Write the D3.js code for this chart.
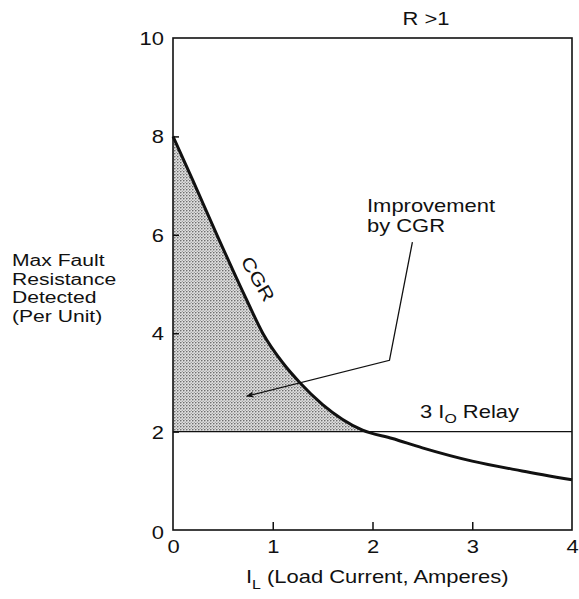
<!DOCTYPE html>
<html><head><meta charset="utf-8">
<script src="https://cdn.jsdelivr.net/npm/d3@7"></script>
<style>body{margin:0;background:#fff}svg{display:block}text{font-family:"Liberation Sans",Arial,Helvetica,sans-serif;fill:#111}</style>
</head><body><svg id="c" width="579" height="599"></svg>
<script>
// ---- data ----
const cgrI = [0, 0.2, 0.44, 0.74, 0.9, 1.1, 1.27, 1.5, 1.9, 2.2, 2.5, 3, 3.5, 4];
const cgrR = [8, 7.1, 6.0, 4.67, 4.0, 3.4, 3.0, 2.55, 2.03, 1.86, 1.67, 1.4, 1.2, 1.02];
const relayI = [0, 4];
const relayR = [2, 2];
const xTicks = [0, 1, 2, 3, 4];
const yTicks = [0, 2, 4, 6, 8, 10];
const arrowI = [2.4, 2.17, 0.74];
const arrowR = [5.85, 3.45, 2.72];

const svg = d3.select("#c");
const x = d3.scaleLinear().domain([0, 4]).range([173, 572]);
const y = d3.scaleLinear().domain([0, 10]).range([530, 38]);
const SX = 1.22;
const FS = 18;

const defs = svg.append("defs");
const pat = defs.append("pattern").attr("id", "dots").attr("patternUnits", "userSpaceOnUse")
  .attr("width", 3).attr("height", 3);
pat.append("rect").attr("width", 3).attr("height", 3).attr("fill", "#e0e0e0");
pat.append("circle").attr("cx", 0.8).attr("cy", 0.8).attr("r", 0.8).attr("fill", "#555");
pat.append("circle").attr("cx", 2.3).attr("cy", 2.3).attr("r", 0.6).attr("fill", "#888");
defs.append("marker").attr("id", "ah").attr("viewBox", "0 0 10 10").attr("refX", 9).attr("refY", 5)
  .attr("markerWidth", 12).attr("markerHeight", 8).attr("markerUnits", "userSpaceOnUse").attr("orient", "auto")
  .append("path").attr("d", "M0,1 L10,5 L0,9 L3,5 Z").attr("fill", "#111");

const cgr = cgrI.map((v, i) => ({ i: v, r: cgrR[i] }));
const shade = cgr.filter(d => d.r >= relayR[0]);

// shaded improvement area
svg.append("path").datum(shade)
  .attr("d", d3.area().x(d => x(d.i)).y0(y(relayR[0])).y1(d => y(d.r)).curve(d3.curveMonotoneX))
  .attr("fill", "url(#dots)");

// axes
const yAx = svg.append("g").attr("transform", `translate(${x(0)},0)`)
  .call(d3.axisLeft(y).tickValues(yTicks).tickSize(-6).tickFormat(d3.format("d")));
const xAx = svg.append("g").attr("transform", `translate(0,${y(0)})`)
  .call(d3.axisBottom(x).tickValues(xTicks).tickSize(-8).tickFormat(d3.format("d")));
[yAx, xAx].forEach(g => {
  g.select(".domain").remove();
  g.selectAll("line").attr("stroke", "#111").attr("stroke-width", 1.5);
  g.selectAll("text").attr("font-size", FS).attr("fill", "#111")
    .style("font-family", '"Liberation Sans",Arial,sans-serif');
});
yAx.selectAll(".tick").filter(d => d === 0 || d === 10).select("line").remove();
xAx.selectAll(".tick").filter(d => d === 0 || d === 4).select("line").remove();
yAx.selectAll(".tick text").each(function (d) {
  d3.select(this).attr("text-anchor", "end").attr("x", 0).attr("dy", "0.36em")
    .attr("transform", `translate(-9,${d === 0 ? 2 : 0}) scale(${SX},1)`);
});
xAx.selectAll(".tick text").attr("y", 0).attr("dy", 0)
  .attr("transform", `translate(0,23) scale(${SX},1)`);

// frame
svg.append("rect").attr("x", x(0)).attr("y", y(10)).attr("width", x(4) - x(0)).attr("height", y(0) - y(10))
  .attr("fill", "none").attr("stroke", "#111").attr("stroke-width", 1.6);

// relay line
svg.append("line").attr("x1", x(relayI[0])).attr("x2", x(relayI[1]))
  .attr("y1", y(relayR[0])).attr("y2", y(relayR[1])).attr("stroke", "#111").attr("stroke-width", 1.3);

// CGR curve
svg.append("path").datum(cgr)
  .attr("d", d3.line().x(d => x(d.i)).y(d => y(d.r)).curve(d3.curveMonotoneX))
  .attr("fill", "none").attr("stroke", "#111").attr("stroke-width", 3);

// annotation arrow
const arr = arrowI.map((v, i) => [x(v), y(arrowR[i])]);
svg.append("path").attr("d", d3.line()(arr)).attr("fill", "none").attr("stroke", "#111")
  .attr("stroke-width", 1.3).attr("marker-end", "url(#ah)");

function label(px, py, str, anchor, size) {
  return svg.append("text").attr("transform", `translate(${px},${py}) scale(${SX},1)`)
    .attr("text-anchor", anchor || "start").attr("font-size", size || FS).text(str);
}

label(367, 212, "Improvement");
label(367, 232, "by CGR");
label(426, 25, "R >1", "middle");

// CGR rotated label
svg.append("text").attr("transform", `translate(258,279) rotate(60) scale(${SX},1)`)
  .attr("text-anchor", "middle").attr("dy", "0.35em").attr("font-size", FS).text("CGR");

// 3Io Relay
const rl = svg.append("text").attr("transform", `translate(420,418) scale(${SX},1)`).attr("font-size", FS);
rl.append("tspan").text("3 I");
rl.append("tspan").attr("dy", 5).attr("font-size", 13).text("O");
rl.append("tspan").attr("dy", -5).text(" Relay");

// y-axis title
["Max Fault", "Resistance", "Detected", "(Per Unit)"].forEach((s, i) => label(12, 266 + i * 18.6, s, "start", 17.3));

// x-axis title
const xt = svg.append("text").attr("transform", `translate(246,583) scale(${SX},1)`).attr("font-size", FS);
xt.append("tspan").text("I");
xt.append("tspan").attr("dy", 6).attr("font-size", 13).text("L");
xt.append("tspan").attr("dy", -6).text(" (Load Current, Amperes)");
</script></body></html>
